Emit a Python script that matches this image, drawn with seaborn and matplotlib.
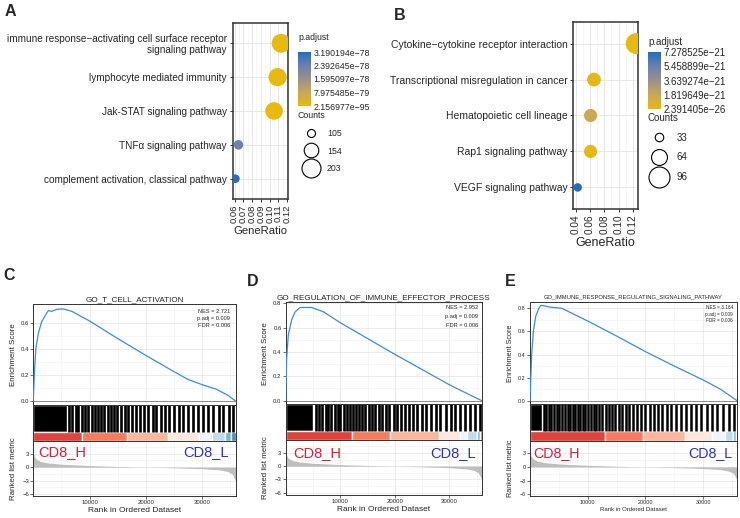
import numpy as np
import pandas as pd
import matplotlib
matplotlib.use("Agg")
import matplotlib.pyplot as plt
import seaborn as sns
from matplotlib.colors import LinearSegmentedColormap, Normalize
from matplotlib.cm import ScalarMappable
from matplotlib.lines import Line2D
from matplotlib.ticker import MultipleLocator, FormatStrFormatter
from matplotlib.transforms import Bbox, TransformedBbox

sns.set_style("white")
plt.rcParams['font.family'] = ['Liberation Sans', 'DejaVu Sans']

# ---------------- enrichment dot plots ----------------
a_terms = ["immune response\u2212activating cell surface receptor\nsignaling pathway",
           "lymphocyte mediated immunity",
           "Jak-STAT signaling pathway",
           "TNF\u03b1 signaling pathway",
           "complement activation, classical pathway"]
a_ratio = [0.113, 0.109, 0.105, 0.0645, 0.061]
a_count = [201, 193, 186, 114, 108]
a_padj = [2.16e-95, 2.16e-95, 2.16e-95, 2.3e-78, 3.190194e-78]
a_cbar_ticks = [2.156977e-95, 7.975485e-79, 1.595097e-78, 2.392645e-78, 3.190194e-78]
a_count_legend = [105, 154, 203]

b_terms = ["Cytokine\u2212cytokine receptor interaction",
           "Transcriptional misregulation in cancer",
           "Hematopoietic cell lineage",
           "Rap1 signaling pathway",
           "VEGF signaling pathway"]
b_ratio = [0.1248, 0.0658, 0.061, 0.061, 0.043]
b_count = [96, 53, 50, 50, 33]
b_padj = [2.391405e-26, 2.0e-22, 1.7e-21, 2.0e-22, 7.278525e-21]
b_cbar_ticks = [2.391405e-26, 1.819649e-21, 3.639274e-21, 5.458899e-21, 7.278525e-21]
b_count_legend = [33, 64, 96]

# ---------------- GSEA panels (one shared ranked list) ----------------
n_genes = 35900
metric_rank = [0, 150, 500, 1200, 2500, 5000, 10000, 15000, 20000, 25000, 30000, 33000, 34500, 35300, 35900]
metric_val = [3.2, 2.5, 1.8, 1.3, 0.95, 0.65, 0.35, 0.15, 0.0, -0.15, -0.35, -0.6, -0.95, -1.5, -3.0]

c_title = "GO_T_CELL_ACTIVATION"
c_stats = ["NES = 2.721", "p.adj = 0.009", "FDR = 0.006"]
c_es_rank = [0, 200, 450, 890, 1490, 2080, 2670, 3270, 4160, 5330, 6820, 10000, 15000,
             20000, 25000, 27500, 30000, 32500, 34500, 35900]
c_es = [0, 0.22, 0.40, 0.52, 0.61, 0.655, 0.695, 0.69, 0.705, 0.708, 0.69, 0.615, 0.48,
        0.35, 0.225, 0.165, 0.125, 0.09, 0.045, 0]
c_block = (0, 6000)
c_hits = [6300, 6800, 7500, 8000, 8700, 9200, 9700, 10400, 10900, 11400, 12100, 12600,
          13200, 13800, 14300, 14900, 15600, 16200, 16800, 17600, 18200, 19000, 19600,
          20400, 21200, 21800, 22700, 23400, 24100, 25000, 25800, 26600, 27500, 28300,
          29300, 30100, 31100, 31900, 32900, 33700, 34700, 35500]
c_strip = [0, 8700, 16700, 24000, 29400, 31700, 34000, 35100, 35900]

d_title = "GO_REGULATION_OF_IMMUNE_EFFECTOR_PROCESS"
d_stats = ["NES = 2.952", "p.adj = 0.009", "FDR = 0.006"]
d_es_rank = [0, 180, 480, 1100, 1700, 2620, 4760, 6890, 10000, 15000, 20000, 25000,
             30000, 33150, 35900]
d_es = [0, 0.35, 0.54, 0.665, 0.727, 0.765, 0.765, 0.73, 0.64, 0.51, 0.38, 0.255,
        0.13, 0.06, 0]
d_block = (0, 5000)
d_hits = [5500, 6100, 6600, 7300, 7800, 8300, 9000, 9500, 10000, 10700, 11200, 11700,
          12300, 12900, 13400, 14000, 14600, 15300, 15800, 16400, 17100, 17600, 18300,
          19000, 19800, 20400, 21100, 21900, 22500, 23300, 24100, 25000, 25700, 26600,
          27500, 28300, 29300, 30200, 31000, 32000, 32900, 33700, 34700, 35500]
d_strip = [0, 12100, 19100, 28000, 31900, 33200, 35000, 35600, 35900]

e_title = "GO_IMMUNE_RESPONSE_REGULATING_SIGNALING_PATHWAY"
e_stats = ["NES = 3.164", "p.adj = 0.009", "FDR = 0.006"]
e_es_rank = [0, 290, 580, 990, 1450, 1860, 2600, 3480, 5500, 10000, 15000, 20000, 25000,
             30000, 33000, 35900]
e_es = [0, 0.40, 0.60, 0.73, 0.79, 0.826, 0.82, 0.81, 0.80, 0.69, 0.56, 0.425, 0.30,
        0.18, 0.10, 0]
e_block = (0, 2000)
e_hits = [2400, 2800, 3300, 3700, 4200, 4700, 5100, 5600, 6000, 6500, 6900, 7400, 7800,
          8300, 8700, 9200, 9600, 10100, 10500, 11000, 11500, 12000, 12500, 13100, 13600,
          14200, 14800, 15400, 16000, 16700, 17200, 17900, 18600, 19300, 20000, 20700,
          21500, 22100, 22900, 23700, 24500, 25300, 26200, 27000, 27900, 28800, 29700,
          30600, 31600, 32400, 33400, 34400, 35300]
e_strip = [0, 13000, 19600, 26800, 31500, 33800, 35200, 35700, 35900]

strip_colors = ["#DE2D26", "#FB6A4A", "#FCAE91", "#FEE5D9", "#EFF3FF", "#BDD7E7", "#6BAED6", "#3182BD"]

padj_cmap = LinearSegmentedColormap.from_list(
    "padj", ["#E8B90F", "#C9A75A", "#9A9088", "#6C7FAE", "#1F6EC2"])

W, H = 740, 518
fig = plt.figure(figsize=(W / 100, H / 100), dpi=100)


def box(l, t, r, b):
    return fig.add_axes([l / W, 1 - b / H, (r - l) / W, (b - t) / H])


def fmt_e(v):
    return "{:e}".format(v).replace("-", "\u2212")


def dotplot(pos, cpos, terms, ratio, count, padj, cticks, cleg, xlim, major,
            dsz, fs, title_xy, leg_xy, hl, htp, lsp):
    ax = box(*pos)
    df = pd.DataFrame({"term": terms, "GeneRatio": ratio, "Count": count, "p.adjust": padj})
    hnorm = Normalize(vmin=cticks[0], vmax=cticks[-1])
    smin, smax = (dsz[0] * 0.72) ** 2, (dsz[1] * 0.72) ** 2
    sns.scatterplot(data=df, x="GeneRatio", y="term", size="Count", sizes=(smin, smax),
                    size_norm=(cleg[0], cleg[-1]), hue="p.adjust", palette=padj_cmap,
                    hue_norm=hnorm, legend=False, linewidth=0, ax=ax, zorder=3)
    ax.set_ylim(len(terms) - 0.4, -0.6)
    ax.set_yticks(range(len(terms)))
    ax.set_yticklabels(terms, fontsize=fs["y"], linespacing=1.05)
    ax.set_xlim(*xlim)
    ax.xaxis.set_major_locator(MultipleLocator(major))
    ax.xaxis.set_minor_locator(MultipleLocator(major / 2))
    ax.xaxis.set_major_formatter(FormatStrFormatter("%.2f"))
    ax.tick_params(axis="x", which="major", labelsize=fs["x"], rotation=90, length=2.5,
                   width=0.7, color="#333333", pad=1.5, bottom=True)
    ax.tick_params(axis="y", labelsize=fs["y"], length=2.5, width=0.7, color="#333333",
                   pad=1.5, left=True)
    ax.tick_params(axis="x", which="minor", length=0)
    ax.set_axisbelow(True)
    ax.grid(which="major", color="#E3E3E3", lw=0.6)
    ax.grid(which="minor", axis="x", color="#EFEFEF", lw=0.4)
    for s in ax.spines.values():
        s.set_color("#333333")
        s.set_linewidth(1.1)
    ax.set_ylabel("")
    ax.set_xlabel("GeneRatio", fontsize=fs["xl"], labelpad=2)

    # colour bar
    cax = box(*cpos)
    cb = fig.colorbar(ScalarMappable(norm=hnorm, cmap=padj_cmap), cax=cax)
    cb.outline.set_visible(False)
    cb.set_ticks(cticks)
    cb.set_ticklabels([fmt_e(v) for v in cticks])
    cax.tick_params(length=0, labelsize=fs["leg"], pad=2)
    fig.text(title_xy[0] / W, 1 - title_xy[1] / H, "p.adjust", fontsize=fs["leg"], va="center")

    # size legend
    handles = []
    for c in cleg:
        s = smin + (c - cleg[0]) / (cleg[-1] - cleg[0]) * (smax - smin)
        handles.append(Line2D([], [], ls="", marker="o", markersize=np.sqrt(s),
                              mfc="white", mec="black", mew=0.8))
    fig.legend(handles, [str(c) for c in cleg], title="Counts", loc="upper left",
               bbox_to_anchor=(leg_xy[0] / W, 1 - leg_xy[1] / H), frameon=False,
               fontsize=fs["leg"], title_fontsize=fs["leg"], borderpad=0, borderaxespad=0,
               handlelength=hl, handletextpad=htp, labelspacing=lsp, alignment="left")
    return ax


dotplot((232.5, 23, 288.3, 199), (298, 52, 311, 106), a_terms, a_ratio, a_count, a_padj,
        a_cbar_ticks, a_count_legend, (0.0577, 0.1212), 0.01, (8, 19),
        dict(y=7.2, x=6.8, xl=8.1, leg=6.3), (298, 38), (298, 111), 2.97, 0.34, 1.0)
dotplot((573, 22, 638, 209), (648, 52, 661, 109), b_terms, b_ratio, b_count, b_padj,
        b_cbar_ticks, b_count_legend, (0.0365, 0.1272), 0.02, (8.5, 21),
        dict(y=7.5, x=7.2, xl=9.0, leg=7.0), (648, 42), (648, 113), 2.26, 0.72, 1.0)


def gsea(lay, title, stats, es_rank, es, block, hits, strip, fs, clip_right=None):
    l, r = lay["lr"]
    ax_es = box(l, lay["es"][0], r, lay["es"][1])
    ax_bar = box(l, lay["bar"][0], r, lay["bar"][1])
    ax_rk = box(l, lay["rank"][0], r, lay["rank"][1])

    for ax in (ax_es, ax_bar, ax_rk):
        ax.set_xlim(0, n_genes)
        for s in ax.spines.values():
            s.set_color("#333333")
            s.set_linewidth(0.7)
        ax.set_axisbelow(True)

    # running enrichment score
    sns.lineplot(x=es_rank, y=es, ax=ax_es, color="#3C8DD4", lw=0.9, zorder=3)
    ax_es.axhline(0, color="#666666", lw=0.5, zorder=2)
    ax_es.set_ylim(*lay["es_ylim"])
    ax_es.yaxis.set_major_locator(MultipleLocator(0.2))
    ax_es.yaxis.set_minor_locator(MultipleLocator(0.1))
    ax_es.xaxis.set_major_locator(MultipleLocator(10000))
    ax_es.xaxis.set_minor_locator(MultipleLocator(5000))
    ax_es.grid(which="major", color="#E3E3E3", lw=0.5)
    ax_es.grid(which="minor", color="#F0F0F0", lw=0.4)
    ax_es.tick_params(axis="x", which="both", length=0, labelbottom=False)
    ax_es.tick_params(axis="y", which="major", length=2, width=0.5, color="#333333",
                      labelsize=fs["tick"], pad=1, left=True)
    ax_es.tick_params(axis="y", which="minor", length=0)
    ax_es.set_ylabel("Enrichment Score", fontsize=fs["yl"], labelpad=3)
    t = ax_es.set_title(title, fontsize=fs["title"], pad=fs["tpad"])
    if clip_right is not None:
        t.set_clip_box(TransformedBbox(Bbox([[0, 0], [clip_right / W, 1]]), fig.transFigure))
        t.set_clip_on(True)
    for i, txt in enumerate(stats):
        ax_es.text(lay["stat_x"], lay["stat_y"][i], txt, transform=ax_es.transAxes,
                   ha="right", va="center", fontsize=fs["nes"])

    # hit barcode and ranked-metric colour strip
    sf = lay["strip"]
    ax_bar.set_ylim(0, 1)
    ax_bar.broken_barh([block], (sf, 1 - sf), facecolors="black")
    ax_bar.vlines(hits, sf, 1, colors="black", lw=fs["bar_lw"])
    ax_bar.broken_barh([(strip[i], strip[i + 1] - strip[i]) for i in range(len(strip) - 1)],
                       (0, sf), facecolors=strip_colors, alpha=0.9)
    ax_bar.set_xticks([])
    ax_bar.set_yticks([])

    # ranked list metric
    ax_rk.fill_between(metric_rank, 0, metric_val, color="#BEBEBE", lw=0, zorder=2)
    ax_rk.set_ylim(*lay["rank_ylim"])
    ax_rk.yaxis.set_major_locator(MultipleLocator(3))
    ax_rk.yaxis.set_minor_locator(MultipleLocator(1.5))
    ax_rk.xaxis.set_major_locator(MultipleLocator(10000))
    ax_rk.xaxis.set_minor_locator(MultipleLocator(5000))
    ax_rk.grid(which="major", color="#E3E3E3", lw=0.5)
    ax_rk.grid(which="minor", color="#F0F0F0", lw=0.4)
    ax_rk.set_xticks([10000, 20000, 30000])
    ax_rk.tick_params(which="major", length=2, width=0.5, color="#333333",
                      labelsize=fs["tick"], pad=1, left=True, bottom=True)
    ax_rk.tick_params(which="minor", length=0)
    ax_rk.set_ylabel("Ranked list metric", fontsize=fs["yl"], labelpad=4)
    ax_rk.set_xlabel("Rank in Ordered Dataset", fontsize=fs["xl"], labelpad=1.5)
    ax_rk.text(lay["h_x"], lay["lab_y"], "CD8_H", transform=ax_rk.transAxes, ha="left",
               va="center", fontsize=fs["cd8"], color="#DC1C3C")
    ax_rk.text(lay["l_x"], lay["lab_y"], "CD8_L", transform=ax_rk.transAxes, ha="right",
               va="center", fontsize=fs["cd8"], color="#2F2FC4")


fs_cd = dict(title=5.9, tpad=1.8, yl=5.7, xl=6.0, tick=4.3, nes=4.1, cd8=10.5, bar_lw=1.9)
fs_e = dict(title=4.2, tpad=2.2, yl=5.2, xl=4.3, tick=3.9, nes=3.4, cd8=10.3, bar_lw=1.8)

gsea(dict(lr=(33.3, 235.5), es=(303.5, 405), bar=(405, 441), rank=(441, 496),
          es_ylim=(-0.031, 0.75), rank_ylim=(-6.4, 5.8), strip=0.25,
          stat_x=0.973, stat_y=[0.926, 0.857, 0.781], h_x=0.023, l_x=0.968, lab_y=0.8),
     c_title, c_stats, c_es_rank, c_es, c_block, c_hits, c_strip, fs_cd)
gsea(dict(lr=(285.7, 481.7), es=(302, 404.3), bar=(404.3, 440), rank=(440, 495),
          es_ylim=(-0.03, 0.81), rank_ylim=(-6.5, 5.9), strip=0.25,
          stat_x=0.981, stat_y=[0.944, 0.856, 0.775], h_x=0.037, l_x=0.971, lab_y=0.76),
     d_title, d_stats, d_es_rank, d_es, d_block, d_hits, d_strip, fs_cd, clip_right=490)
gsea(dict(lr=(530, 737.3), es=(301.7, 404.3), bar=(404.3, 441), rank=(441, 496),
          es_ylim=(-0.03, 0.857), rank_ylim=(-6.4, 5.7), strip=0.27,
          stat_x=0.979, stat_y=[0.942, 0.877, 0.812], h_x=0.015, l_x=0.976, lab_y=0.78),
     e_title, e_stats, e_es_rank, e_es, e_block, e_hits, e_strip, fs_e)

# panel letters
for letter, x, y in [("A", 5, 11), ("B", 394, 16), ("C", 3, 275), ("D", 247, 282), ("E", 505, 282)]:
    fig.text(x / W, 1 - y / H, letter, fontsize=11.5, fontweight="bold", ha="left", va="center")

fig.savefig("out.png", dpi=100)
